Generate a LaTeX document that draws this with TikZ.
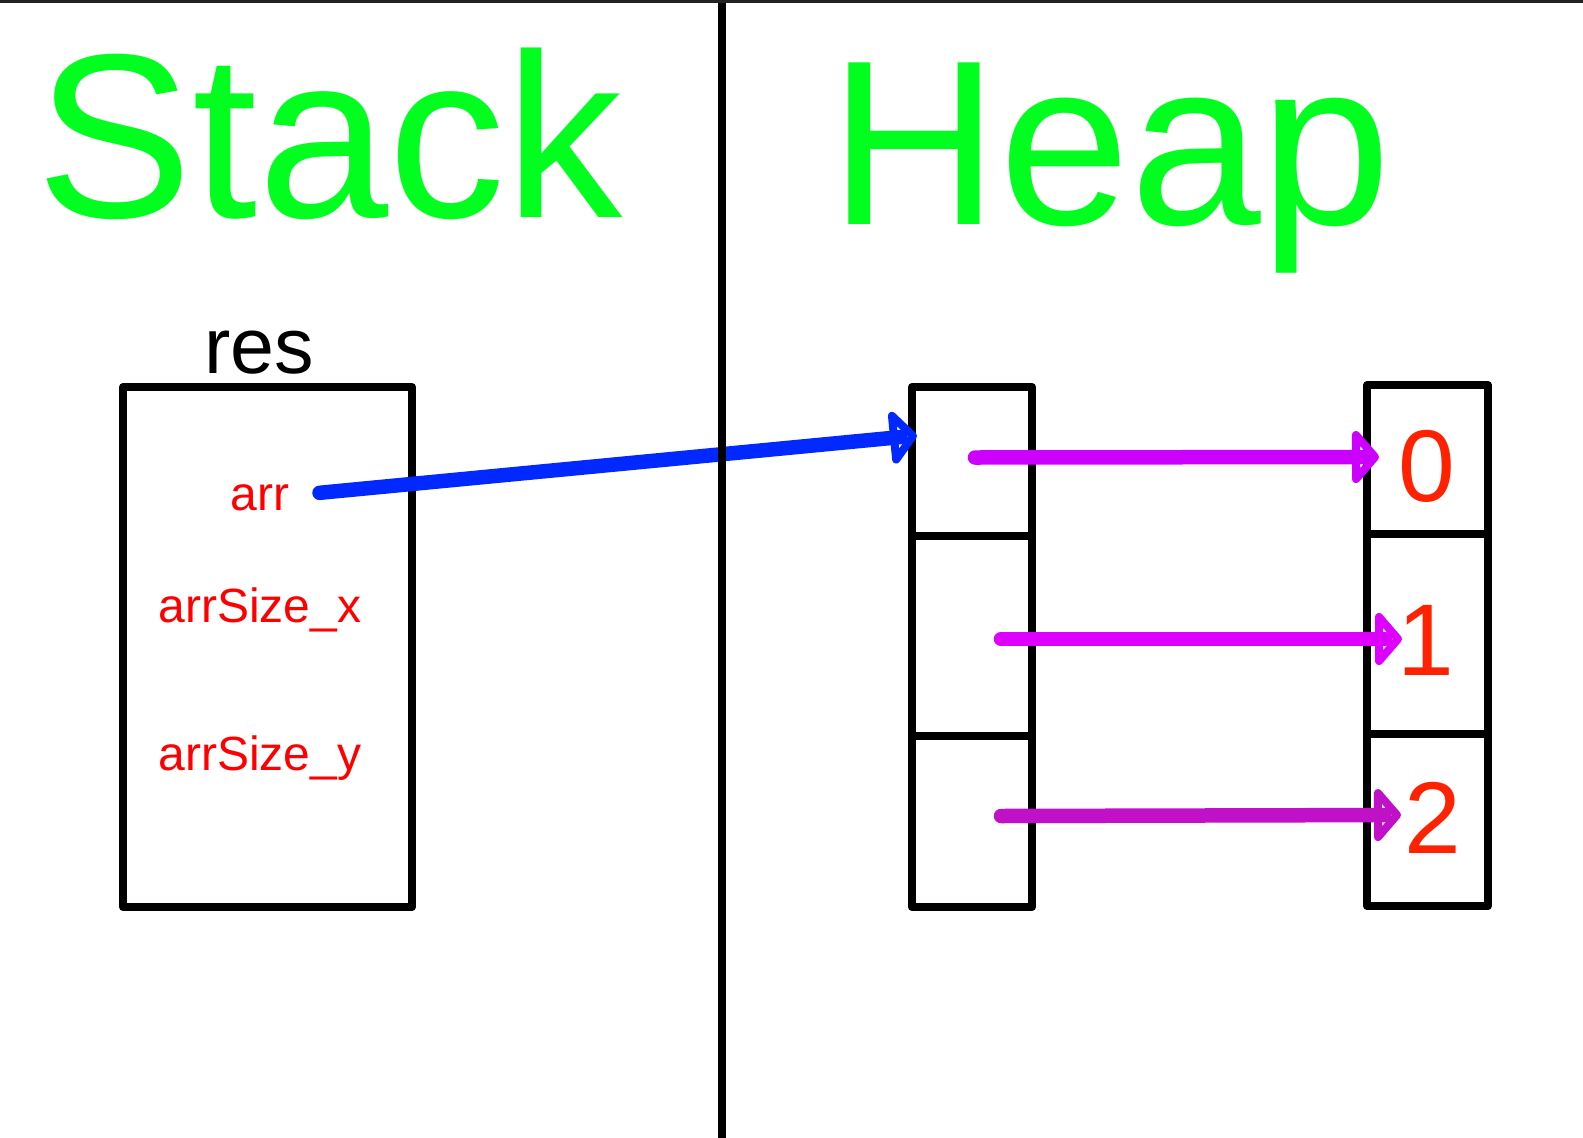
\documentclass[tikz,border=0pt]{standalone}
\usepackage{fontspec}
\setmainfont{Liberation Sans}
\usetikzlibrary{calc,decorations.markings}
\definecolor{tgreen}{RGB}{0,255,30}
\definecolor{tblue}{RGB}{0,40,255}
\definecolor{magA}{RGB}{204,0,255}
\definecolor{magB}{RGB}{221,0,255}
\definecolor{magC}{RGB}{192,16,200}
\definecolor{numred}{RGB}{255,34,0}
\definecolor{topgray}{RGB}{34,34,34}
\begin{document}
\begin{tikzpicture}[x=1pt,y=-1pt,
  cellbox/.style={draw=black,line width=8pt,line join=round,inner sep=0pt,outer sep=0pt},
  title/.style={text=tgreen,font=\fontsize{234}{240}\selectfont,inner sep=0pt,anchor=base west},
  field/.style={text=red,font=\fontsize{48}{52}\selectfont,inner sep=0pt,anchor=base},
  num/.style={text=numred,font=\fontsize{102}{106}\selectfont,inner sep=0pt,anchor=base},
  ptr/.style={line width=14.5pt,line cap=round,shorten >=17pt,
    postaction={decorate},
    decoration={markings,mark=at position 1 with {
      \draw[line width=8pt,line join=round,line cap=round,shorten >=0pt]
        (-4pt,0pt) -- (-23pt,22pt) -- (-23pt,-22pt) -- cycle;}}}]
\useasboundingbox (0,0) rectangle (1583,1138);
% top border
\coordinate (tl) at (0,1.5);
\coordinate (tr) at (1583,1.5);
\draw[topgray,line width=3pt] (tl) -- (tr);
% titles
\node[title] (stack) at (36.7,217) {Stack};
\node[title,font=\fontsize{235}{240}\selectfont] (heap) at (829.5,224) {Heap};
% stack record
\node[cellbox,minimum width=289pt,minimum height=520pt] (res) at (267.5,647) {};
\node[inner sep=0pt,anchor=base,font=\fontsize{79}{84}\selectfont] (reslbl) at (259,373) {res};
\node[field] (arr) at (260,510) {arr};
\node[field] (asx) at (260,622) {arrSize\_x};
\node[field] (asy) at (260,770) {arrSize\_y};
% heap pointer array
\node[cellbox,minimum width=120pt,minimum height=149pt] (m0) at (972,461.5) {};
\node[cellbox,minimum width=120pt,minimum height=200pt] (m1) at (972,636) {};
\node[cellbox,minimum width=120pt,minimum height=171pt] (m2) at (972,821.5) {};
% heap rows
\node[cellbox,minimum width=121pt,minimum height=149pt] (r0) at (1427.5,459.5) {};
\node[cellbox,minimum width=121pt,minimum height=200pt] (r1) at (1427.5,634) {};
\node[cellbox,minimum width=121pt,minimum height=172pt] (r2) at (1427.5,820) {};
\node[num] (n0) at (1427,501) {0};
\node[num] (n1) at (1426,675) {1};
\node[num] (n2) at (1433,853) {2};
% pointers
\draw[ptr,tblue] ($(arr.east)+(30,-4.5)$) -- ($(m0.west)+(5,-26)$);
\draw[ptr,magA] ($(m0.west)+(63,-4)$) -- ($(r0.west)+(12,-2.5)$);
\draw[ptr,magB] ($(m1.west)+(89,3)$) -- ($(r1.west)+(35,5)$);
\draw[ptr,magC] ($(m2.west)+(89,-5.5)$) -- ($(r2.west)+(34,-5)$);
% stack / heap divider (drawn over the pointer)
\coordinate (vt) at (722,3);
\coordinate (vb) at (722,1138);
\draw[black,line width=8pt] (vt) -- (vb);
\end{tikzpicture}
\end{document}
